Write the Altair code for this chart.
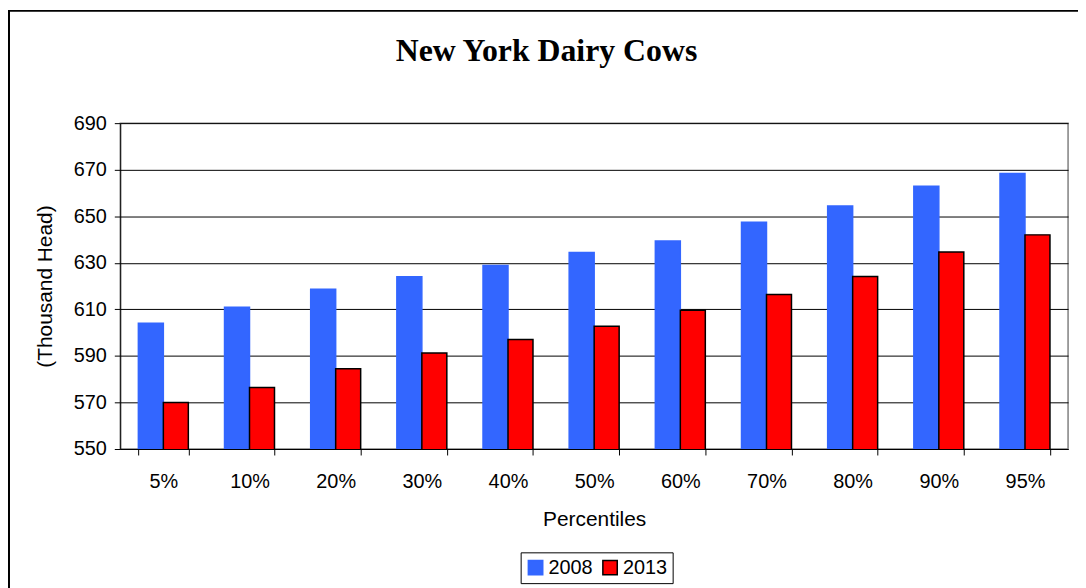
import altair as alt
import pandas as pd

percentiles = ["5%", "10%", "20%", "30%", "40%", "50%", "60%", "70%", "80%", "90%", "95%"]
cows_2008 = [604.0, 610.9, 618.6, 624.0, 628.8, 634.4, 639.4, 647.4, 654.4, 662.9, 668.4]
cows_2013 = [570.0, 576.4, 584.5, 591.2, 597.1, 602.7, 609.6, 616.4, 624.1, 634.6, 642.0]
years = ["2008", "2013"]

rows = []
for p, a, b in zip(percentiles, cows_2008, cows_2013):
    rows.append({"Percentile": p, "Year": years[0], "Value": a})
    rows.append({"Percentile": p, "Year": years[1], "Value": b})
df = pd.DataFrame(rows)

FONT = "Liberation Sans"

bars = alt.Chart(df).mark_bar(strokeWidth=1.5, clip=True).encode(
    x=alt.X("Percentile:N", sort=percentiles, title="Percentiles",
            scale=alt.Scale(paddingInner=0.42, paddingOuter=0.21),
            axis=alt.Axis(labelAngle=0, tickBand="extent", grid=False,
                          tickSize=6, labelPadding=17, titlePadding=17,
                          domainColor="black", tickColor="black")),
    xOffset=alt.XOffset("Year:N", sort=years),
    y=alt.Y("Value:Q", title="(Thousand Head)",
            scale=alt.Scale(domain=[550, 690], zero=False, nice=False),
            axis=alt.Axis(values=list(range(550, 691, 20)), tickSize=6, labelPadding=8,
                          titlePadding=18, grid=True, gridColor="black", gridWidth=1,
                          domainColor="black", tickColor="black")),
    color=alt.Color("Year:N", sort=years, title=None,
                    scale=alt.Scale(domain=years, range=["#3366FF", "#FF0000"]),
                    legend=alt.Legend(orient="none", legendX=403, legendY=432,
                                      direction="horizontal", symbolType="square",
                                      symbolSize=210, labelFontSize=20, labelFont=FONT,
                                      padding=5, strokeColor="black", columnPadding=6,
                                      labelOffset=3, symbolStrokeWidth=1.5, symbolOpacity=1)),
    stroke=alt.Stroke("Year:N", sort=years, title=None,
                      scale=alt.Scale(domain=years, range=["#3366FF", "#000000"])),
)

frame = alt.Chart(alt.Data(values=[{"k": 1}])).mark_rect(
    filled=False, stroke="black", strokeWidth=2, clip=False
).encode(x=alt.value(-112), x2=alt.value(1100), y=alt.value(-113), y2=alt.value(600))

chart = alt.layer(frame, bars).properties(
    width=954, height=328,
    background="white",
    title=alt.Title("New York Dairy Cows", font="Liberation Serif", fontSize=32,
                    fontWeight="bold", anchor="middle", frame="group", dx=-48,
                    offset=-58, color="black"),
    autosize=alt.AutoSizeParams(type="none"),
    padding={"left": 113, "top": 114, "right": 10, "bottom": 138},
).configure_view(stroke="#808080", strokeWidth=1.5).configure_axis(
    labelFont=FONT, titleFont=FONT, labelFontSize=20, titleFontSize=21,
    labelColor="black", titleColor="black", titleFontWeight="normal"
)

chart.save("out.html", embed_options={"renderer": "svg", "actions": False})
